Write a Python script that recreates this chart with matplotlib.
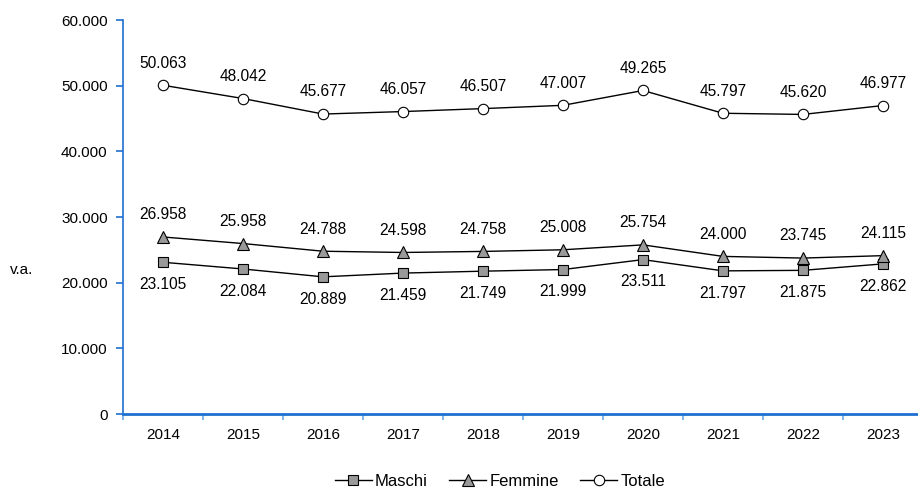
import matplotlib.pyplot as plt
from matplotlib.ticker import FuncFormatter, FixedLocator

plt.rcParams['font.family'] = ['Liberation Sans', 'DejaVu Sans']

anni = ['2014', '2015', '2016', '2017', '2018', '2019', '2020', '2021', '2022', '2023']
maschi = [23105, 22084, 20889, 21459, 21749, 21999, 23511, 21797, 21875, 22862]
femmine = [26958, 25958, 24788, 24598, 24758, 25008, 25754, 24000, 23745, 24115]
totale = [50063, 48042, 45677, 46057, 46507, 47007, 49265, 45797, 45620, 46977]

def fmt(v):
    return f'{int(v):,}'.replace(',', '.')

fig = plt.figure(figsize=(9.18, 4.9), dpi=100)
ax = fig.add_axes([123 / 918, 1 - 414 / 490, 800 / 918, 394 / 490])

x = list(range(len(anni)))
ax.plot(x, maschi, color='black', lw=1, marker='s', ms=7.5, mfc='#999999', mec='black', mew=0.8, label='Maschi')
ax.plot(x, femmine, color='black', lw=1, marker='^', ms=8, mfc='#999999', mec='black', mew=0.8, label='Femmine')
ax.plot(x, totale, color='black', lw=1, marker='o', ms=7.5, mfc='white', mec='black', mew=0.8, label='Totale')

for i in x:
    ax.annotate(fmt(totale[i]), (i, totale[i]), xytext=(0, 16), textcoords='offset points', ha='center', va='center', fontsize=11.2)
    ax.annotate(fmt(femmine[i]), (i, femmine[i]), xytext=(0, 16), textcoords='offset points', ha='center', va='center', fontsize=11.2)
    ax.annotate(fmt(maschi[i]), (i, maschi[i]), xytext=(0, -16), textcoords='offset points', ha='center', va='center', fontsize=11.2)

blue = '#1F6FD0'
ax.set_xlim(-0.5, 9.5)
ax.set_ylim(0, 60000)
ax.set_yticks(range(0, 60001, 10000))
ax.yaxis.set_major_formatter(FuncFormatter(lambda v, p: fmt(v)))
ax.set_xticks(x)
ax.set_xticklabels(anni)
ax.xaxis.set_minor_locator(FixedLocator([i - 0.5 for i in range(len(anni) + 1)]))
ax.tick_params(axis='x', which='major', length=0, pad=10, labelsize=11)
ax.tick_params(axis='x', which='minor', length=4, color='#6FA8E8', width=1.2)
ax.tick_params(axis='y', length=5, color=blue, width=1.2, labelsize=11, pad=6)

for s in ['top', 'right']:
    ax.spines[s].set_visible(False)
for s in ['left', 'bottom']:
    ax.spines[s].set_color(blue)
ax.spines['left'].set_linewidth(1.2)
ax.spines['bottom'].set_linewidth(2)

fig.text(22 / 918, 1 - 270 / 490, 'v.a.', ha='center', va='center', fontsize=11)

fig.legend(loc='center', bbox_to_anchor=(500 / 918, 1 - 481 / 490), ncol=3, frameon=False,
           fontsize=12, handlelength=2.2, handletextpad=0.2, columnspacing=1.3, borderaxespad=0)

fig.savefig('out.png', dpi=100)
